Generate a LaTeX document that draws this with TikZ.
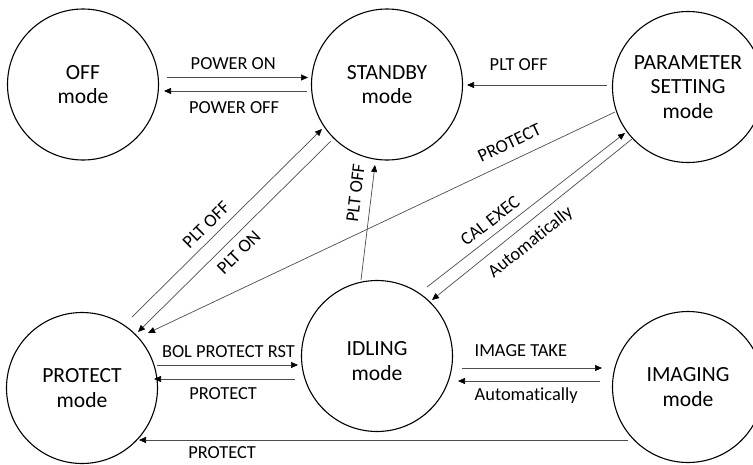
\documentclass[tikz,border=0pt]{standalone}
\usepackage{fontspec}
\setmainfont{Carlito}[Ligatures=NoCommon]
\usetikzlibrary{arrows.meta,calc}
\begin{document}
\begin{tikzpicture}[x=1pt,y=-1pt,
  state/.style={circle,draw,line width=1.1pt,minimum size=151pt,inner sep=0pt,align=center,font=\fontsize{21.6}{24.8}\selectfont},
  conn/.style={draw=black!70,line width=0.7pt,-{Triangle[length=7pt,width=6pt,color=black]}},
  lbl/.style={font=\fontsize{18.4}{21}\selectfont,inner sep=0pt,text=black}]
\useasboundingbox (0,0) rectangle (753,464);
\node[state] (off) at (83,84.5) {OFF\\mode};
\node[state] (standby) at (387,84.5) {STANDBY\\mode};
\node[state] (param) at (688,87) {PARAMETER\\SETTING\\mode};
\node[state] (protect) at (82,388) {PROTECT\\mode};
\node[state,text height=48.5pt] (idling) at (377,356) {IDLING\\mode};
\node[state] (imaging) at (688,387) {IMAGING\\mode};

\draw[conn] ($(off)+(84,-7)$) -- node[lbl,pos=0.47,above=7.5pt] (l1) {POWER ON} ($(standby)+(-79,-7)$);
\draw[conn] ($(standby)+(-80,6.5)$) -- node[lbl,pos=0.51,below=10.5pt] (l2) {POWER OFF} ($(off)+(81,6.5)$);
\draw[conn] ($(param)+(-81,-2)$) -- node[lbl,pos=0.63,above=14pt] (l3) {PLT OFF} ($(standby)+(80,0.5)$);
\draw[conn] ($(param)+(-73,25)$) -- node[lbl,pos=0.21,sloped,above=11pt] (l4) {PROTECT} ($(protect)+(66,-55)$);
\draw[conn] ($(idling)+(50,-69)$) -- node[lbl,pos=0.36,sloped,above=7pt] (l5) {CAL EXEC} ($(param)+(-63,46)$);
\draw[conn] ($(param)+(-56,52)$) -- node[lbl,pos=0.56,sloped,below=9pt] (l6) {Automatically} ($(idling)+(55,-56)$);
\draw[conn] ($(idling)+(-16,-76)$) -- node[lbl,pos=0.74,sloped,above=9.5pt] (l7) {PLT OFF} ($(standby)+(-12,80.5)$);
\draw[conn] ($(protect)+(50,-71)$) -- node[lbl,pos=0.44,sloped,above=7pt] (l8) {PLT OFF} ($(standby)+(-65,44.5)$);
\draw[conn] ($(standby)+(-56,56.5)$) -- node[lbl,pos=0.53,sloped,below=8pt] (l9) {PLT ON} ($(protect)+(56,-56)$);
\draw[conn] ($(protect)+(75,-23)$) -- node[lbl,pos=0.507,above=7pt] (l10) {BOL PROTECT RST} ($(idling)+(-79,9)$);
\draw[conn] ($(idling)+(-82,23)$) -- node[lbl,pos=0.51,below=8pt] (l11) {PROTECT} ($(protect)+(72,-9)$);
\draw[conn] ($(idling)+(85,12)$) -- node[lbl,pos=0.42,above=11.5pt] (l12) {IMAGE TAKE} ($(imaging)+(-86,-19)$);
\draw[conn] ($(imaging)+(-88,-6)$) -- node[lbl,pos=0.52,below=6pt] (l13) {Automatically} ($(idling)+(81,25)$);
\draw[conn] ($(imaging)+(-60,53)$) -- node[lbl,pos=0.83,below=6.7pt] (l14) {PROTECT} ($(protect)+(57,52)$);
\end{tikzpicture}
\end{document}
